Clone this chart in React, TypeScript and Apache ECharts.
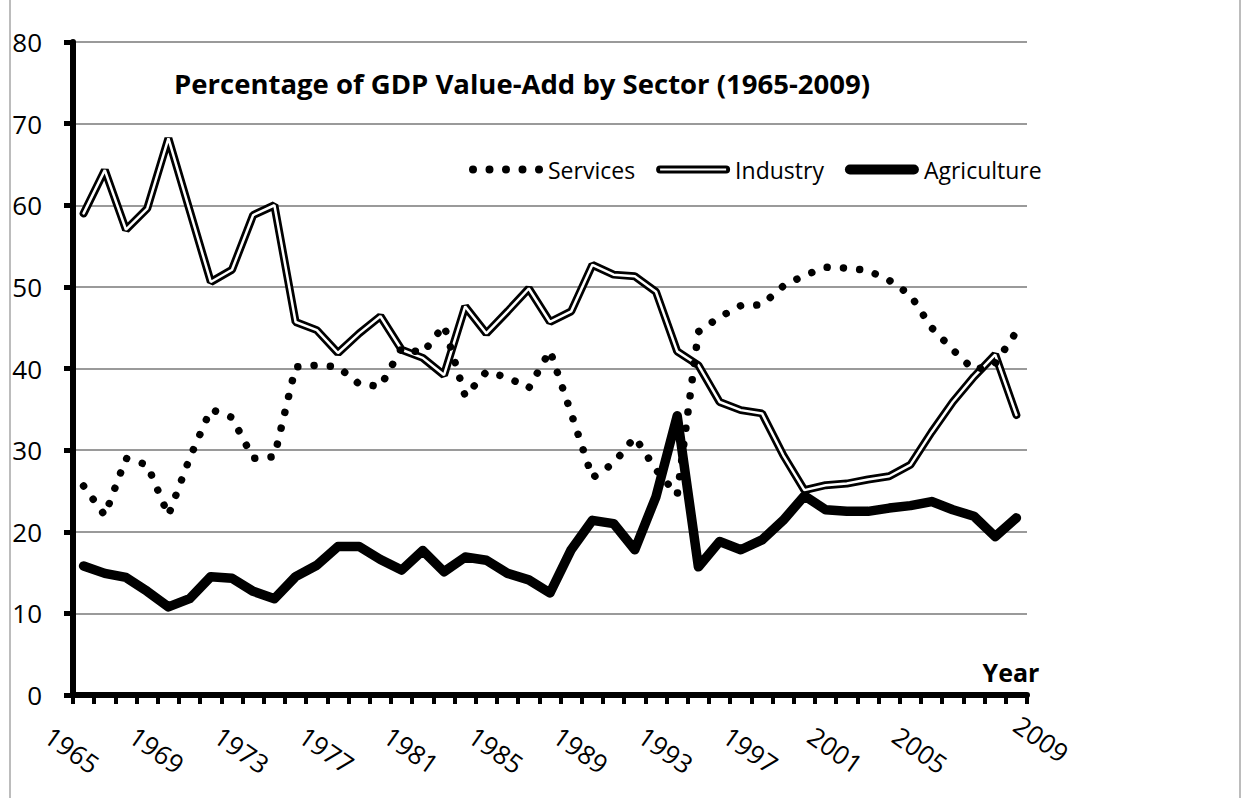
import React, { useEffect, useRef } from 'react';
import * as echarts from 'echarts';

const years = [
  '1965', '1966', '1967', '1968', '1969', '1970', '1971', '1972', '1973', '1974',
  '1975', '1976', '1977', '1978', '1979', '1980', '1981', '1982', '1983', '1984',
  '1985', '1986', '1987', '1988', '1989', '1990', '1991', '1992', '1993', '1994',
  '1995', '1996', '1997', '1998', '1999', '2000', '2001', '2002', '2003', '2004',
  '2005', '2006', '2007', '2008', '2009',
];

const services = [
  25.6, 22.0, 29.0, 28.2, 22.0, 29.0, 35.0, 34.0, 29.0, 29.2,
  40.2, 40.4, 40.2, 38.1, 37.8, 42.5, 41.9, 45.3, 36.6, 39.6,
  38.9, 37.6, 42.2, 34.5, 26.6, 28.4, 31.6, 27.6, 24.5, 44.5,
  46.3, 47.7, 47.8, 50.1, 51.4, 52.4, 52.3, 52.0, 50.8, 49.0,
  45.0, 42.3, 39.8, 40.6, 44.5,
];

const industry = [
  59.0, 64.3, 57.0, 59.6, 68.2, 59.4, 50.6, 52.1, 58.8, 60.0,
  45.7, 44.7, 41.9, 44.3, 46.4, 42.3, 41.3, 39.2, 47.6, 44.3,
  47.0, 49.8, 45.7, 47.0, 52.7, 51.5, 51.3, 49.4, 42.1, 40.4,
  35.9, 34.9, 34.5, 29.4, 25.1, 25.7, 25.9, 26.4, 26.8, 28.2,
  32.2, 35.9, 39.0, 41.7, 34.3,
];

const agriculture = [
  15.8, 14.9, 14.4, 12.7, 10.8, 11.8, 14.5, 14.3, 12.7, 11.8,
  14.5, 15.9, 18.2, 18.2, 16.6, 15.3, 17.7, 15.1, 16.9, 16.5,
  14.9, 14.1, 12.5, 17.8, 21.4, 21.0, 17.8, 24.3, 34.2, 15.7,
  18.8, 17.8, 19.0, 21.4, 24.4, 22.7, 22.5, 22.5, 22.9, 23.2,
  23.7, 22.7, 21.9, 19.4, 21.7,
];

const seriesNames = ['Services', 'Industry', 'Agriculture'];
const titleText = 'Percentage of GDP Value-Add by Sector (1965-2009)';
const xAxisName = 'Year';
const yMin = 0;
const yMax = 80;
const yStep = 10;

const FONT = "'Open Sans', sans-serif";

function dotsIcon(): string {
  const r = 4;
  const centers = [4, 20.5, 37, 53.5, 70];
  return (
    'path://' +
    centers
      .map((c) => `M${c - r},${r} A${r},${r} 0 1,0 ${c + r},${r} A${r},${r} 0 1,0 ${c - r},${r} Z`)
      .join(' ')
  );
}

const doubleLineIcon =
  'path://M4,0 L70,0 A4,4 0 0,1 70,8 L4,8 A4,4 0 0,1 4,0 Z M4,2.9 L4,5.1 L70,5.1 L70,2.9 Z';
const thickLineIcon = 'path://M5,0 L69,0 A5,5 0 0,1 69,10 L5,10 A5,5 0 0,1 5,0 Z';

export default function App() {
  const ref = useRef<HTMLDivElement>(null);

  useEffect(() => {
    if (!ref.current) return;
    const chart = echarts.init(ref.current, null, { renderer: 'svg' });
    const lastIndex = years.length - 1;
    chart.setOption({
      animation: false,
      backgroundColor: '#ffffff',
      textStyle: { fontFamily: FONT },
      title: {
        text: titleText,
        left: 174,
        top: 69,
        padding: 0,
        textStyle: { fontSize: 27.5, fontWeight: 'bold', color: '#000', fontFamily: FONT },
      },
      legend: {
        data: [
          { name: seriesNames[0], icon: dotsIcon(), itemStyle: { color: '#000', borderWidth: 0 } },
          { name: seriesNames[1], icon: doubleLineIcon, itemStyle: { color: '#000', borderWidth: 0 } },
          { name: seriesNames[2], icon: thickLineIcon, itemStyle: { color: '#000', borderWidth: 0 } },
        ],
        left: 469,
        top: 158,
        padding: 0,
        itemWidth: 74,
        itemHeight: 10,
        itemGap: 21,
        selectedMode: false,
        textStyle: { fontSize: 23, color: '#000', fontFamily: FONT },
      },
      grid: { left: 73, right: 218, top: 42, bottom: 103 },
      xAxis: {
        type: 'category',
        data: years,
        boundaryGap: true,
        name: xAxisName,
        nameLocation: 'end',
        nameGap: -16,
        nameTextStyle: {
          fontSize: 25,
          fontWeight: 'bold',
          color: '#000',
          fontFamily: FONT,
          align: 'center',
          verticalAlign: 'bottom',
          padding: [0, 0, 11, 0],
        },
        axisLine: { show: true, lineStyle: { color: '#000', width: 6 } },
        axisTick: { show: true, interval: 0, length: 9, lineStyle: { color: '#000', width: 4 } },
        axisLabel: {
          interval: 3,
          rotate: -35,
          align: 'center',
          verticalAlign: 'middle',
          margin: 63,
          padding: [0, 28, 0, 0],
          fontSize: 26,
          color: '#000',
          fontFamily: FONT,
          formatter: (value: string, index: number) =>
            index === lastIndex ? `{last|${value}}` : value,
          rich: {
            last: {
              fontSize: 26,
              color: '#000',
              fontFamily: FONT,
              padding: [0, 0, 60, 47],
            },
          },
        },
        splitLine: { show: false },
      },
      yAxis: {
        type: 'value',
        min: yMin,
        max: yMax,
        interval: yStep,
        axisLine: { show: true, lineStyle: { color: '#000', width: 6 } },
        axisTick: { show: true, length: 9, lineStyle: { color: '#000', width: 5 } },
        axisLabel: { margin: 31, fontSize: 26, color: '#000', fontFamily: FONT },
        splitLine: { show: true, lineStyle: { color: '#9a9a9a', width: 2 } },
      },
      graphic: [
        {
          type: 'rect',
          silent: true,
          z: -10,
          shape: { x: 10, y: -2, width: 1230, height: 820 },
          style: { fill: 'none', stroke: '#a6a6a6', lineWidth: 1.5 },
        },
      ],
      series: [
        {
          name: seriesNames[2],
          type: 'line',
          data: agriculture,
          symbol: 'none',
          silent: true,
          itemStyle: { color: '#000' },
          lineStyle: { color: '#000', width: 9.5, join: 'round', cap: 'round' },
          z: 2,
        },
        {
          name: seriesNames[1],
          type: 'line',
          data: industry,
          symbol: 'none',
          silent: true,
          itemStyle: { color: '#000' },
          lineStyle: { color: '#000', width: 8, cap: 'round' },
          z: 3,
        },
        {
          name: 'Industry inner',
          type: 'line',
          data: industry,
          symbol: 'none',
          silent: true,
          itemStyle: { color: '#fff' },
          lineStyle: { color: '#fff', width: 2.5, cap: 'round' },
          z: 4,
        },
        {
          name: seriesNames[0],
          type: 'line',
          data: services,
          symbol: 'none',
          silent: true,
          itemStyle: { color: '#000' },
          lineStyle: { color: '#000', width: 7.5, type: [0.01, 16.3], cap: 'round' },
          z: 5,
        },
      ],
    });
    return () => chart.dispose();
  }, []);

  return (
    <div
      ref={ref}
      style={{ position: 'absolute', left: 0, top: 0, width: 1245, height: 798, background: '#fff' }}
    />
  );
}
